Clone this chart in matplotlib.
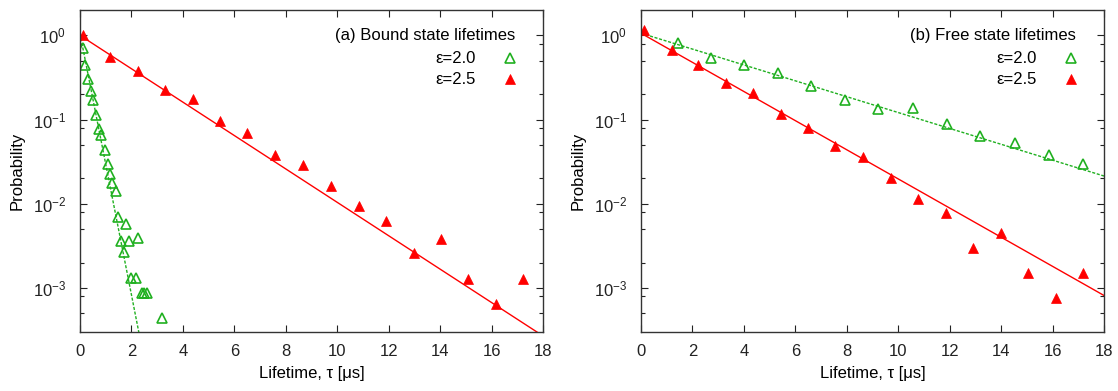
import numpy as np
import matplotlib
matplotlib.use("Agg")
import matplotlib.pyplot as plt
from matplotlib.ticker import FixedLocator, LogFormatterMathtext, NullFormatter

plt.rcParams['font.family'] = ['Liberation Sans', 'DejaVu Sans']
plt.rcParams['mathtext.fontset'] = 'custom'
plt.rcParams['mathtext.rm'] = 'Liberation Sans'
plt.rcParams['mathtext.it'] = 'Liberation Sans'

# ---- data: (a) bound state lifetimes ----
bound_eps20_t = [0.12, 0.21, 0.33, 0.44, 0.5, 0.63, 0.72, 0.83, 0.96, 1.07, 1.15, 1.25,
                 1.4, 1.48, 1.8, 1.6, 1.9, 2.25, 1.7, 2.0, 2.16, 2.4, 2.5, 2.6, 3.2]
bound_eps20_p = [0.71, 0.45, 0.30, 0.22, 0.17, 0.112, 0.078, 0.065, 0.044, 0.0295, 0.0224, 0.0177,
                 0.0142, 0.0070, 0.0057, 0.0036, 0.0036, 0.0039, 0.0027, 0.0013, 0.0013,
                 0.00087, 0.00087, 0.00087, 0.00044]
bound_eps25_t = [0.1, 1.17, 2.25, 3.32, 4.4, 5.46, 6.5, 7.6, 8.66, 9.76, 10.84, 11.91,
                 12.97, 14.03, 15.1, 16.17, 17.24]
bound_eps25_p = [1.0, 0.553, 0.374, 0.223, 0.177, 0.096, 0.069, 0.038, 0.029, 0.0162, 0.0095,
                 0.0063, 0.0026, 0.0038, 0.00127, 0.00065, 0.00127]
bound_fit_eps20 = (1.05, 0.28)   # amplitude, tau [us]
bound_fit_eps25 = (1.0, 2.19)

# ---- data: (b) free state lifetimes ----
free_eps20_t = [1.42, 2.72, 4.01, 5.34, 6.62, 7.95, 9.23, 10.56, 11.88, 13.17, 14.53, 15.85, 17.2]
free_eps20_p = [0.81, 0.54, 0.45, 0.36, 0.25, 0.173, 0.135, 0.138, 0.089, 0.064, 0.052, 0.038, 0.030]
free_eps25_t = [0.1, 1.22, 2.23, 3.3, 4.37, 5.45, 6.5, 7.56, 8.62, 9.7, 10.76, 11.84,
                12.9, 13.99, 15.05, 16.13, 17.19]
free_eps25_p = [1.15, 0.676, 0.45, 0.27, 0.205, 0.117, 0.080, 0.048, 0.036, 0.020, 0.0114,
                0.0077, 0.0030, 0.0045, 0.0015, 0.00076, 0.0015]
free_fit_eps20 = (1.06, 4.61)
free_fit_eps25 = (1.06, 2.51)

titles = ["(a) Bound state lifetimes", "(b) Free state lifetimes"]
legend_labels = ["ε=2.0", "ε=2.5"]
xticks = [0, 2, 4, 6, 8, 10, 12, 14, 16, 18]

GREEN = '#20b020'
RED = '#ff0000'
FS = 12

fig = plt.figure(figsize=(11.18, 3.91), dpi=100)
ax1 = fig.add_axes([80/1118, 1-332/391, 463/1118, 322/391])
ax2 = fig.add_axes([641/1118, 1-332/391, 463/1118, 322/391])

panels = [
    (ax1, bound_eps20_t, bound_eps20_p, bound_eps25_t, bound_eps25_p, bound_fit_eps20, bound_fit_eps25, titles[0]),
    (ax2, free_eps20_t, free_eps20_p, free_eps25_t, free_eps25_p, free_fit_eps20, free_fit_eps25, titles[1]),
]

tt = np.linspace(0, 18, 400)
minor = []
for e in range(-4, 1):
    for m in (0.2, 0.5, 0.8):
        minor.append(m * 10.0**e)

for ax, gt, gp, rt, rp, gfit, rfit, title in panels:
    ax.set_yscale('log')
    ax.plot(tt, gfit[0]*np.exp(-tt/gfit[1]), color=GREEN, lw=1.0, ls=(0, (2.2, 1.2)))
    ax.plot(tt, rfit[0]*np.exp(-tt/rfit[1]), color=RED, lw=1.0)
    ax.plot(gt, gp, ls='none', marker='^', ms=7, mfc='none', mec=GREEN, mew=1.2)
    ax.plot(rt, rp, ls='none', marker='^', ms=7.5, mfc=RED, mec=RED, mew=0.5)
    ax.set_xlim(0, 18)
    ax.set_ylim(3e-4, 2.0)
    ax.set_xticks(xticks)
    ax.yaxis.set_major_locator(FixedLocator([1e-3, 1e-2, 1e-1, 1e0]))
    ax.yaxis.set_major_formatter(LogFormatterMathtext())
    ax.yaxis.set_minor_locator(FixedLocator(minor))
    ax.yaxis.set_minor_formatter(NullFormatter())
    ax.tick_params(which='both', direction='in', top=True, right=True, labelsize=FS,
                   colors='#222222', width=0.8)
    ax.tick_params(which='major', length=5)
    ax.tick_params(which='minor', length=3)
    ax.tick_params(axis='x', which='major', pad=9)
    ax.tick_params(axis='y', which='major', pad=10)
    for s in ax.spines.values():
        s.set_linewidth(1.0)
        s.set_color('#333333')
    ax.set_xlabel("Lifetime, τ [μs]", fontsize=FS)
    ax.set_ylabel("Probability", fontsize=FS)
    ax.xaxis.set_label_coords(0.5, -0.105)
    ax.yaxis.set_label_coords(-0.12, 0.5)
    # key
    ax.text(0.94, 0.922, title, transform=ax.transAxes, ha='right', va='center', fontsize=FS)
    ax.text(0.855, 0.848, legend_labels[0], transform=ax.transAxes, ha='right', va='center', fontsize=FS)
    ax.text(0.855, 0.783, legend_labels[1], transform=ax.transAxes, ha='right', va='center', fontsize=FS)
    ax.plot([0.929], [0.851], transform=ax.transAxes, marker='^', ms=7, mfc='none', mec=GREEN,
            mew=1.2, ls='none', clip_on=False)
    ax.plot([0.929], [0.786], transform=ax.transAxes, marker='^', ms=7.5, mfc=RED, mec=RED,
            mew=0.5, ls='none', clip_on=False)

fig.savefig("out.png", dpi=100)
